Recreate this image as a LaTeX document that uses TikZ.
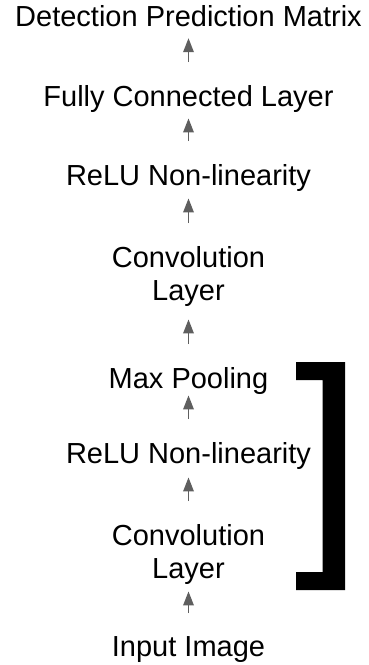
\documentclass[tikz,border=0pt]{standalone}
\usepackage{fontspec}
\setmainfont{Liberation Sans}
\usetikzlibrary{arrows.meta}
\definecolor{arrgray}{HTML}{5F5F5F}
\tikzset{
  lbl/.style={anchor=north, inner sep=0pt, align=center, font=\fontsize{29}{33}\selectfont},
  arr/.style={draw=arrgray, line width=1.8pt, -{Triangle[length=14pt,width=10.5pt]}, shorten <=23pt},
}
\begin{document}
\begin{tikzpicture}[x=1pt,y=-1pt]
\useasboundingbox (0,0) rectangle (368,665);
\node[lbl] (det)   at (188.5,5)   {Detection Prediction Matrix};
\node[lbl] (fc)    at (188.5,85)  {Fully Connected Layer};
\node[lbl] (relu2) at (188.5,164) {ReLU Non-linearity};
\node[lbl] (conv2) at (188.5,246) {Convolution\\Layer};
\node[lbl] (pool)  at (188.5,367) {Max Pooling};
\node[lbl] (relu1) at (188.5,442) {ReLU Non-linearity};
\node[lbl] (conv1) at (188.5,524) {Convolution\\Layer};
\node[lbl] (inp)   at (188.5,636) {Input Image};
\draw[arr, shorten >=11.5pt] (fc.north) -- (det.south);
\draw[arr, shorten >=6pt]  (relu2.north) -- (fc.south);
\draw[arr, shorten >=7pt]  (conv2.north) -- (relu2.south);
\draw[arr, shorten >=13pt] (pool.north) -- (conv2.south);
\draw[arr, shorten >=1pt]  (relu1.north) -- (pool.south);
\draw[arr, shorten >=8pt]  (conv1.north) -- (relu1.south);
\draw[arr, shorten >=7pt]  (inp.north) -- (conv1.south);
\fill[black] (296,362) -- (345,362) -- (345,590) -- (296,590) -- (296,572) -- (322.7,572) -- (322.7,380) -- (296,380) -- cycle;
\end{tikzpicture}
\end{document}
